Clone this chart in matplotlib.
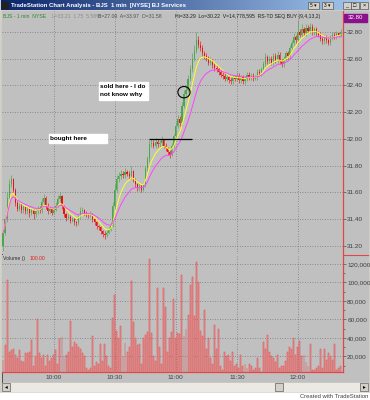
import matplotlib
matplotlib.use('Agg')
import matplotlib.pyplot as plt
from matplotlib.patches import Rectangle, Ellipse
from matplotlib.colors import LinearSegmentedColormap
import matplotlib.ticker as mticker
import numpy as np
import pandas as pd

plt.rcParams['font.family'] = ['Liberation Sans', 'DejaVu Sans']

# one-minute bars of BJS, starting 9:35
time_labels = ['10:00', '10:30', '11:00', '11:30', '12:00']
time_bars = [25, 55, 85, 115, 145]
price_ticks = [31.20, 31.40, 31.60, 31.80, 32.00, 32.20, 32.40, 32.60, 32.80]
vol_ticks = [20000, 40000, 60000, 80000, 100000, 120000]

opens = [31.20, 31.30, 31.40, 31.56, 31.66, 31.70, 31.62, 31.52, 31.48, 31.50,
         31.47, 31.49, 31.46, 31.48, 31.45, 31.47, 31.44, 31.46, 31.48, 31.47,
         31.53, 31.56, 31.50, 31.46, 31.48, 31.45, 31.47, 31.50, 31.55, 31.57,
         31.50, 31.44, 31.41, 31.42, 31.39, 31.40, 31.38, 31.37, 31.42, 31.46,
         31.47, 31.45, 31.44, 31.43, 31.44, 31.40, 31.38, 31.35, 31.34, 31.31,
         31.29, 31.28, 31.30, 31.32, 31.35, 31.50, 31.62, 31.70, 31.72, 31.74,
         31.73, 31.75, 31.74, 31.72, 31.76, 31.70, 31.66, 31.63, 31.65, 31.62,
         31.66, 31.78, 31.85, 31.96, 31.97, 31.95, 31.98, 31.96, 31.97, 31.99,
         31.95, 31.93, 31.90, 31.88, 31.95, 32.02, 32.10, 32.15, 32.12, 32.25,
         32.34, 32.37, 32.45, 32.52, 32.60, 32.66, 32.74, 32.70, 32.68, 32.64,
         32.62, 32.60, 32.57, 32.58, 32.55, 32.53, 32.52, 32.50, 32.48, 32.47,
         32.45, 32.46, 32.44, 32.43, 32.46, 32.45, 32.47, 32.44, 32.46, 32.43,
         32.45, 32.48, 32.46, 32.47, 32.45, 32.46, 32.50, 32.49, 32.52, 32.56,
         32.61, 32.58, 32.60, 32.57, 32.62, 32.59, 32.63, 32.58, 32.56, 32.60,
         32.64, 32.62, 32.68, 32.72, 32.76, 32.74, 32.80, 32.78, 32.82, 32.79,
         32.83, 32.81, 32.84, 32.80, 32.82, 32.79, 32.78, 32.75, 32.73, 32.76,
         32.74, 32.72, 32.76, 32.78, 32.77, 32.79, 32.78]

highs = [31.33, 31.42, 31.60, 31.70, 31.73, 31.71, 31.63, 31.54, 31.52, 31.52,
         31.51, 31.50, 31.50, 31.49, 31.49, 31.48, 31.48, 31.50, 31.50, 31.56,
         31.59, 31.57, 31.52, 31.50, 31.49, 31.49, 31.53, 31.58, 31.60, 31.58,
         31.51, 31.45, 31.44, 31.43, 31.42, 31.41, 31.39, 31.44, 31.49, 31.49,
         31.48, 31.46, 31.45, 31.46, 31.45, 31.41, 31.39, 31.36, 31.35, 31.32,
         31.31, 31.32, 31.34, 31.38, 31.53, 31.66, 31.73, 31.75, 31.77, 31.76,
         31.78, 31.77, 31.76, 31.80, 31.77, 31.71, 31.67, 31.67, 31.66, 31.68,
         31.80, 31.87, 31.99, 32.00, 31.99, 32.01, 32.00, 31.99, 32.02, 32.00,
         31.97, 31.94, 31.92, 31.97, 32.04, 32.13, 32.18, 32.17, 32.28, 32.37,
         32.40, 32.48, 32.55, 32.64, 32.70, 32.80, 32.77, 32.73, 32.70, 32.66,
         32.64, 32.62, 32.61, 32.60, 32.57, 32.55, 32.54, 32.52, 32.50, 32.49,
         32.48, 32.48, 32.46, 32.48, 32.48, 32.50, 32.49, 32.48, 32.48, 32.47,
         32.50, 32.50, 32.49, 32.49, 32.48, 32.52, 32.52, 32.54, 32.58, 32.64,
         32.63, 32.62, 32.62, 32.64, 32.64, 32.66, 32.65, 32.60, 32.62, 32.66,
         32.66, 32.70, 32.74, 32.79, 32.78, 32.89, 32.82, 32.86, 32.84, 32.86,
         32.85, 32.87, 32.86, 32.84, 32.84, 32.81, 32.80, 32.77, 32.78, 32.78,
         32.76, 32.78, 32.80, 32.80, 32.81, 32.80, 32.82]

lows = [31.16, 31.28, 31.38, 31.54, 31.64, 31.60, 31.50, 31.46, 31.46, 31.45,
        31.45, 31.44, 31.44, 31.42, 31.43, 31.40, 31.42, 31.44, 31.45, 31.45,
        31.51, 31.48, 31.44, 31.45, 31.43, 31.44, 31.46, 31.49, 31.53, 31.48,
        31.42, 31.39, 31.40, 31.37, 31.38, 31.36, 31.35, 31.36, 31.41, 31.44,
        31.43, 31.42, 31.41, 31.42, 31.38, 31.36, 31.33, 31.32, 31.29, 31.27,
        31.25, 31.27, 31.29, 31.31, 31.34, 31.48, 31.60, 31.68, 31.70, 31.71,
        31.71, 31.72, 31.70, 31.70, 31.68, 31.64, 31.61, 31.61, 31.60, 31.61,
        31.64, 31.76, 31.83, 31.94, 31.93, 31.93, 31.94, 31.94, 31.95, 31.93,
        31.91, 31.88, 31.86, 31.87, 31.93, 32.00, 32.08, 32.10, 32.10, 32.23,
        32.32, 32.35, 32.43, 32.50, 32.58, 32.64, 32.68, 32.66, 32.62, 32.60,
        32.58, 32.55, 32.55, 32.53, 32.51, 32.50, 32.48, 32.46, 32.45, 32.43,
        32.43, 32.42, 32.41, 32.41, 32.43, 32.43, 32.42, 32.42, 32.41, 32.41,
        32.43, 32.44, 32.44, 32.43, 32.44, 32.44, 32.47, 32.47, 32.50, 32.54,
        32.56, 32.56, 32.55, 32.55, 32.57, 32.57, 32.56, 32.54, 32.54, 32.58,
        32.60, 32.60, 32.66, 32.70, 32.72, 32.72, 32.76, 32.76, 32.77, 32.77,
        32.79, 32.79, 32.78, 32.78, 32.77, 32.76, 32.73, 32.71, 32.71, 32.72,
        32.70, 32.70, 32.74, 32.75, 32.75, 32.76, 32.76]

closes = [31.30, 31.40, 31.56, 31.66, 31.70, 31.62, 31.52, 31.48, 31.50, 31.47,
          31.49, 31.46, 31.48, 31.45, 31.47, 31.44, 31.46, 31.48, 31.47, 31.53,
          31.56, 31.50, 31.46, 31.48, 31.45, 31.47, 31.50, 31.55, 31.57, 31.50,
          31.44, 31.41, 31.42, 31.39, 31.40, 31.38, 31.37, 31.42, 31.46, 31.47,
          31.45, 31.44, 31.43, 31.44, 31.40, 31.38, 31.35, 31.34, 31.31, 31.29,
          31.28, 31.30, 31.32, 31.35, 31.50, 31.62, 31.70, 31.72, 31.74, 31.73,
          31.75, 31.74, 31.72, 31.76, 31.70, 31.66, 31.63, 31.65, 31.62, 31.66,
          31.78, 31.85, 31.96, 31.97, 31.95, 31.98, 31.96, 31.97, 31.99, 31.95,
          31.93, 31.90, 31.88, 31.95, 32.02, 32.10, 32.15, 32.12, 32.25, 32.34,
          32.37, 32.45, 32.52, 32.60, 32.66, 32.74, 32.70, 32.68, 32.64, 32.62,
          32.60, 32.57, 32.58, 32.55, 32.53, 32.52, 32.50, 32.48, 32.47, 32.45,
          32.46, 32.44, 32.43, 32.46, 32.45, 32.47, 32.44, 32.46, 32.43, 32.45,
          32.48, 32.46, 32.47, 32.45, 32.46, 32.50, 32.49, 32.52, 32.56, 32.61,
          32.58, 32.60, 32.57, 32.62, 32.59, 32.63, 32.58, 32.56, 32.60, 32.64,
          32.62, 32.68, 32.72, 32.76, 32.74, 32.80, 32.78, 32.82, 32.79, 32.83,
          32.81, 32.84, 32.80, 32.82, 32.79, 32.78, 32.75, 32.73, 32.76, 32.74,
          32.72, 32.76, 32.78, 32.77, 32.79, 32.78, 32.80]

# volume in thousands of shares
volume_k = [16, 32, 103, 25, 27, 28, 22, 18, 27, 15,
            14, 24, 24, 25, 38, 10, 20, 60, 24, 18,
            22, 10, 22, 15, 18, 22, 27, 12, 39, 41,
            20, 22, 25, 58, 30, 36, 33, 30, 28, 24,
            20, 8, 5, 8, 42, 10, 14, 12, 33, 15,
            33, 20, 10, 8, 62, 86, 48, 40, 53, 20,
            35, 25, 30, 102, 57, 40, 32, 33, 12, 40,
            43, 46, 125, 45, 20, 15, 94, 30, 12, 94,
            73, 25, 40, 46, 82, 40, 45, 44, 108, 42,
            50, 65, 97, 106, 64, 122, 100, 48, 42, 70,
            28, 40, 18, 12, 54, 28, 50, 10, 5, 25,
            20, 22, 15, 25, 10, 12, 8, 22, 10, 12,
            8, 12, 10, 5, 8, 18, 8, 3, 36, 28,
            43, 25, 20, 18, 14, 22, 8, 10, 10, 15,
            25, 30, 28, 40, 22, 30, 37, 20, 22, 14,
            10, 33, 5, 5, 8, 10, 28, 8, 28, 16,
            24, 20, 16, 34, 5, 8, 10]

W, H = 370, 400
BG = '#c0c0c0'
GRID = dict(color='#787878', lw=0.6, ls=(0, (1, 2)))


def frac(x0, y0, x1, y1):
    return [x0 / W, 1 - y1 / H, (x1 - x0) / W, (y1 - y0) / H]


fig = plt.figure(figsize=(W / 100, H / 100), dpi=100, facecolor='white')

# window frame, drawn in pixel coordinates
bg = fig.add_axes([0, 0, 1, 1])
bg.set_xlim(0, W)
bg.set_ylim(H, 0)
bg.axis('off')
bg.add_patch(Rectangle((0, 0), W, 393, color='#d4d0c8'))
bg.add_patch(Rectangle((2, 11), 366, 371, color=BG))
grad = np.linspace(0, 1, 256).reshape(1, -1)
cmap = LinearSegmentedColormap.from_list('tb', ['#0a246a', '#a6caf0'])
bg.imshow(grad, extent=(1, 369, 10, 0.5), aspect='auto', cmap=cmap, zorder=2)
bg.add_patch(Rectangle((2, 2), 6, 6, color='#202020', zorder=3))
bg.text(11, 5.5, 'TradeStation Chart Analysis - BJS  1 min  [NYSE] BJ Services',
        color='white', fontsize=4.3, fontweight='bold', va='center', zorder=3)
for x0, lab in [(308, '5 \u25be'), (322, '3 \u25be')]:
    bg.add_patch(Rectangle((x0, 2), 11, 7, facecolor='#d4d0c8', edgecolor='#404040', lw=0.4, zorder=3))
    bg.text(x0 + 5.5, 5.6, lab, fontsize=3.4, ha='center', va='center', zorder=4)
for x0, lab in [(343, '_'), (351, '\u25a1'), (360, '\u00d7')]:
    bg.add_patch(Rectangle((x0, 2), 8, 7, facecolor='#d4d0c8', edgecolor='#404040', lw=0.4, zorder=3))
    bg.text(x0 + 4, 5.4, lab, fontsize=4, ha='center', va='center', zorder=4)
bg.plot([1.5, 1.5], [11, 382], color='#404040', lw=0.6)
bg.plot([343, 368], [254.5, 254.5], color='#e04848', lw=0.8)

# scroll bar
bg.add_patch(Rectangle((2, 383), 366, 8, color='#ebe9e4'))
for x0, lab in [(2, '\u25c2'), (360, '\u25b8')]:
    bg.add_patch(Rectangle((x0, 383), 8, 8, facecolor='#d4d0c8', edgecolor='#404040', lw=0.4))
    bg.text(x0 + 4, 387, lab, fontsize=4, ha='center', va='center')
bg.add_patch(Rectangle((275, 383), 8, 8, facecolor='#d4d0c8', edgecolor='#404040', lw=0.4))
bg.add_patch(Rectangle((0, 393), W, 7, color='white'))
bg.text(368, 397, 'Created with TradeStation', fontsize=4.2, color='#404040',
        ha='right', va='center')

n = len(closes)
x = np.arange(n)
o = np.array(opens)
c = np.array(closes)
up = c >= o
cols = np.where(up, '#4aa84a', '#ec1010')

# price panel
ax = fig.add_axes(frac(2, 11, 343, 254))
ax.set_facecolor(BG)
ax.set_xlim(-0.5, 167.2)
ax.set_ylim(31.14, 32.957)
ax.vlines(x, lows, highs, colors=cols, lw=0.45, zorder=3)
ax.bar(x, np.maximum(np.abs(c - o), 0.008), bottom=np.minimum(o, c),
       width=0.55, color=cols, lw=0, zorder=3)
s = pd.Series(closes)
ax.plot(x, s.ewm(span=7).mean(), color='#ffff30', lw=0.7, zorder=4)
ax.plot(x, s.ewm(span=15).mean(), color='#ff44ff', lw=0.7, zorder=4)
ax.set_yticks(price_ticks)
ax.yaxis.set_major_formatter(mticker.FormatStrFormatter('%.2f'))
ax.set_xticks(time_bars)
ax.grid(True, **GRID)
ax.yaxis.tick_right()
ax.tick_params(axis='y', length=2, width=0.5, color='#505050', labelsize=4.6,
               labelcolor='#404040', pad=1)
ax.tick_params(axis='x', length=0, labelbottom=False)
for side in ['left', 'top', 'bottom']:
    ax.spines[side].set_visible(False)
ax.spines['right'].set_color('#e04848')
ax.spines['right'].set_linewidth(0.9)

# trade notes
ax.hlines(32.00, 71.8, 93, color='black', lw=0.9, zorder=5)
ax.add_patch(Ellipse((89, 32.35), 6.0, 0.085, fill=False, ec='black', lw=0.8, zorder=5))

# volume panel
vx = fig.add_axes(frac(2, 255, 343, 372))
vx.set_facecolor(BG)
vx.set_xlim(-0.5, 167.2)
vx.set_ylim(3200, 129700)
vx.bar(x, np.array(volume_k) * 1000, width=0.45, color='#f0a0a0',
       edgecolor='#e04848', lw=0.35, zorder=3)
vx.set_yticks(vol_ticks)
vx.yaxis.set_major_formatter(mticker.StrMethodFormatter('{x:,.0f}'))
vx.yaxis.set_minor_locator(mticker.MultipleLocator(10000))
vx.set_xticks(time_bars)
vx.set_xticklabels(time_labels)
vx.grid(True, **GRID)
vx.yaxis.tick_right()
vx.tick_params(axis='y', which='major', length=2, width=0.5, color='#505050',
               labelsize=4.6, labelcolor='#404040', pad=1)
vx.tick_params(axis='y', which='minor', length=1.2, width=0.5, color='#505050')
vx.tick_params(axis='x', length=0, labelsize=4.6, labelcolor='#404040', pad=2.5)
for side in ['left', 'top']:
    vx.spines[side].set_visible(False)
for side in ['right', 'bottom']:
    vx.spines[side].set_color('#e04848')
    vx.spines[side].set_linewidth(0.9)

# overlay texts in pixel coordinates
top = fig.add_axes([0, 0, 1, 1])
top.set_xlim(0, W)
top.set_ylim(H, 0)
top.axis('off')
fs = 3.7
top.text(3, 16.5, 'BJS - 1 min  NYSE', color='#2e8b2e', fontsize=fs, va='center')
top.text(52, 16.5, 'L=33.21  1.75  5.58%', color='#8c8c8c', fontsize=fs, va='center')
top.text(98, 16.5, 'B=27.00  A=33.97  O=31.58', color='#505050', fontsize=fs, va='center')
top.text(175, 16.5, 'Hi=33.29  Lo=30.22  V=14,778,595  RS-TD SEQ BUY (9,4,13,2)',
         color='#202020', fontsize=fs, va='center')
top.add_patch(Rectangle((344, 13.5), 23, 8, color='#8b108b'))
top.text(355.5, 17.5, '32.80', color='white', fontsize=4.4, ha='center', va='center')

top.add_patch(Rectangle((99, 82), 49, 17.5, color='white'))
top.text(100, 86.5, 'sold here - I do', fontsize=4.6, fontweight='bold', va='center')
top.text(100, 94.5, 'not know why', fontsize=4.6, fontweight='bold', va='center')
top.add_patch(Rectangle((49, 134), 58, 9, color='white'))
top.text(50, 138.5, 'bought here', fontsize=4.6, fontweight='bold', va='center')

top.text(3, 258.5, 'Volume ()', color='#303030', fontsize=fs, va='center')
top.text(30, 258.5, '100.00', color='#e02020', fontsize=fs, va='center')

fig.savefig('out.png', dpi=100)
